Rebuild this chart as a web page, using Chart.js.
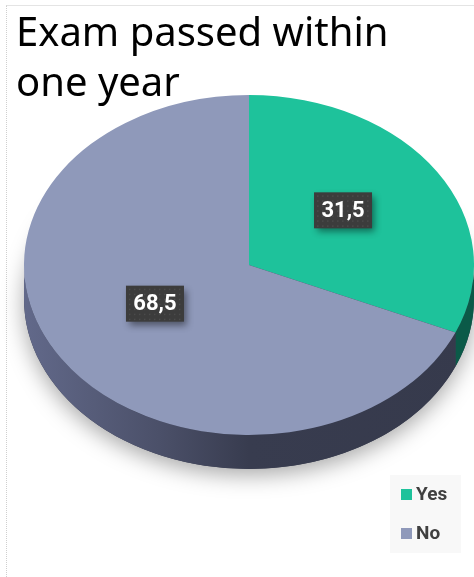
<!DOCTYPE html>
<html>
<head>
<meta charset="utf-8">
<script src="https://cdn.jsdelivr.net/npm/chart.js@4.4.1/dist/chart.umd.min.js"></script>
<style>
  html, body { margin: 0; padding: 0; background: #fff; }
  #wrap { position: relative; width: 474px; height: 577px; overflow: hidden; }
  #frame { position: absolute; left: 6px; top: 5px; right: -2px; bottom: -2px; border-top: 1px solid #e4e4e4; border-left: 1px dotted #cfcfcf; }
  canvas { position: absolute; left: 0; top: 0; }
</style>
</head>
<body>
<div id="wrap">
  <div id="frame"></div>
  <canvas id="chart" width="474" height="577"></canvas>
</div>
<script>
const categories = ["Yes", "No"];
const shares = [31.5, 68.5];
const shareLabels = ["31,5", "68,5"];
const titleLines = ["Exam passed within", "one year"];

const topColors = ["#1ec29b", "#8f99ba"];
const sideColors = ["#0b5a48", "#383c4f"];

// where the tilted pie sits on the page
const pieBox = { cx: 249, cy: 265, rx: 225, ry: 170, depth: 34 };

function sideGradient(ctx, i) {
  const g = ctx.createLinearGradient(pieBox.cx - pieBox.rx, 0, pieBox.cx + pieBox.rx, 0);
  if (i === 1) {
    g.addColorStop(0, "#62698a");
    g.addColorStop(0.3, "#4b5069");
    g.addColorStop(0.5, "#383c4f");
    g.addColorStop(1, "#363a4c");
  } else {
    g.addColorStop(0, sideColors[i]);
    g.addColorStop(1, sideColors[i]);
  }
  return g;
}

const pie3d = {
  id: "pie3d",
  beforeDatasetsDraw(chart) {
    const ctx = chart.ctx;
    const arcs = chart.getDatasetMeta(0).data;
    const a0 = arcs[0];
    const { cx, cy, rx, ry, depth } = pieBox;

    // soft shadow under the pie
    ctx.save();
    ctx.shadowColor = "rgba(0,0,0,0.35)";
    ctx.shadowBlur = 22;
    ctx.shadowOffsetY = 6;
    ctx.fillStyle = "#383c4f";
    ctx.beginPath();
    ctx.ellipse(cx, cy + depth, rx, ry, 0, 0, Math.PI * 2);
    ctx.fill();
    ctx.restore();

    // side walls, only the front half is visible
    arcs.forEach((arc, i) => {
      const a = Math.max(arc.startAngle, 0);
      const b = Math.min(arc.endAngle, Math.PI);
      if (b <= a) return;
      ctx.save();
      ctx.fillStyle = sideGradient(ctx, i);
      ctx.beginPath();
      ctx.ellipse(cx, cy, rx, ry, 0, a, b);
      ctx.ellipse(cx, cy + depth, rx, ry, 0, b, a, true);
      ctx.closePath();
      ctx.fill();
      ctx.restore();
    });

    // squash the library's round pie into the top ellipse
    ctx.save();
    ctx.translate(cx, cy);
    ctx.scale(rx / a0.outerRadius, ry / a0.outerRadius);
    ctx.translate(-a0.x, -a0.y);
  },
  afterDatasetsDraw(chart) {
    const ctx = chart.ctx;
    ctx.restore();
    const arcs = chart.getDatasetMeta(0).data;
    const a0 = arcs[0];
    arcs.forEach((arc, i) => {
      const p = arc.tooltipPosition();
      const x = pieBox.cx + (p.x - a0.x) * pieBox.rx / a0.outerRadius;
      const y = pieBox.cy + (p.y - a0.y) * pieBox.ry / a0.outerRadius - 8;
      const w = 58, h = 36;
      ctx.save();
      ctx.shadowColor = "rgba(0,0,0,0.45)";
      ctx.shadowBlur = 7;
      ctx.shadowOffsetX = 3;
      ctx.shadowOffsetY = 4;
      ctx.fillStyle = "#3c3c3c";
      ctx.fillRect(x - w / 2, y - h / 2, w, h);
      ctx.restore();
      ctx.save();
      ctx.fillStyle = "rgba(255,255,255,0.08)";
      for (let dx = 3; dx < w; dx += 5) {
        for (let dy = 3; dy < h; dy += 5) {
          ctx.fillRect(x - w / 2 + dx, y - h / 2 + dy, 1.5, 1.5);
        }
      }
      ctx.fillStyle = "#ffffff";
      ctx.font = "bold 22px Roboto";
      ctx.textAlign = "center";
      ctx.textBaseline = "middle";
      ctx.fillText(shareLabels[i], x, y + 1);
      ctx.restore();
    });
  },
  afterDraw(chart) {
    const ctx = chart.ctx;
    const colors = chart.data.datasets[0].backgroundColor;
    ctx.save();
    ctx.fillStyle = "#f8f8f8";
    ctx.fillRect(390, 475, 71, 78);
    ctx.font = "bold 19px Roboto";
    ctx.textBaseline = "middle";
    chart.data.labels.forEach((label, i) => {
      const y = 494 + i * 39;
      ctx.fillStyle = colors[i];
      ctx.fillRect(401, y - 5, 11, 11);
      ctx.fillStyle = "#404040";
      ctx.fillText(label, 416, y + 1);
    });
    ctx.restore();
  }
};

new Chart(document.getElementById("chart"), {
  type: "pie",
  data: {
    labels: categories,
    datasets: [{
      data: shares,
      backgroundColor: topColors,
      borderWidth: 0,
      clip: false
    }]
  },
  options: {
    responsive: false,
    animation: false,
    layout: { padding: { left: 16, right: 10, bottom: 10 } },
    plugins: {
      legend: { display: false },
      tooltip: { enabled: false },
      title: {
        display: true,
        text: titleLines,
        align: "start",
        color: "#000000",
        font: { family: "Noto Sans", size: 40, weight: "normal", lineHeight: 1.25 },
        padding: { top: 10, bottom: 0 }
      }
    }
  },
  plugins: [pie3d]
});
</script>
</body>
</html>
